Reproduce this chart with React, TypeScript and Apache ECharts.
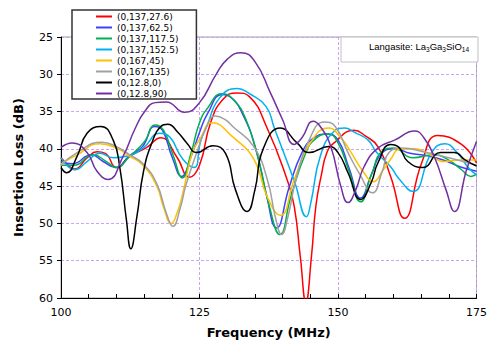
import React, { useEffect, useRef } from "react";
import * as echarts from "echarts";

// [frequency (MHz), insertion loss (dB)]
const s0_137_276: number[][] = [
  [100, 41.2], [101.6, 42.4], [102.5, 42.7], [104.7, 41.2], [106.5, 40.4], [108, 40.6], [110, 42.5],
  [112.4, 41], [115.5, 39.8], [118, 38.5], [120.9, 41.1], [123.2, 43.8], [125, 42.2], [127, 36.5],
  [129.3, 33.3], [131.8, 32.5], [134, 33], [137.2, 37.2], [140.8, 44.1], [142.1, 47.7], [143.2, 54.5],
  [144.2, 60.5], [145.2, 54.5], [146, 47.7], [147, 43.5], [148, 40.5], [149.3, 39.2], [152.9, 37.5],
  [155, 38.3], [157.2, 39.7], [159.5, 43.7], [162, 49.3], [165.1, 41.9], [168, 38.2], [172.3, 39.4],
  [175, 41.9],
];
const s0_137_625: number[][] = [
  [100, 41.7], [102, 42], [105.5, 40.8], [107.6, 41.7], [109.9, 42.5], [112.4, 40.9], [114.7, 39.7],
  [116.9, 37], [118.3, 37.5], [120.1, 41.2], [121.8, 43.7], [123.5, 41], [125, 37.8], [126.5, 35.2],
  [129.1, 32.7], [130.5, 33], [132.7, 35.2], [135.2, 40.1], [137, 45.9], [138.9, 50.6], [141.2, 45.1],
  [143.5, 40.5], [145.5, 38.6], [148, 38], [150, 38.8], [152, 42.6], [154.1, 46.6], [156, 43.5],
  [158, 40.5], [160.3, 40], [163, 40.6], [166, 40.9], [169, 41.5], [172, 42.4], [175, 43],
];
const s0_137_1175: number[][] = [
  [100, 42.2], [102.3, 42.2], [105.8, 40.8], [108.2, 41.7], [110, 42.5], [112.4, 41], [115.1, 39],
  [117, 36.8], [118.5, 37.5], [120.3, 41], [121.9, 43.9], [123.5, 40.5], [125, 36.5], [126.5, 34.5],
  [129, 32.6], [131, 33.3], [133.4, 36.1], [135.8, 41.9], [137.6, 47.7], [139.5, 51.5], [141.5, 46.4],
  [144.2, 40.5], [146, 38.6], [148.2, 38], [150, 39.2], [152, 43], [154.1, 47.1], [156, 43.5],
  [158, 40.3], [160, 39.9], [163.5, 41.2], [167.4, 40.8], [170, 41.5], [172.3, 42.8], [174, 43.7],
  [175, 43.4],
];
const s0_137_1525: number[][] = [
  [100, 41.2], [101, 42.2], [102.5, 42.8], [104.7, 41.7], [107, 40.6], [109.4, 41.2], [111.8, 41],
  [114.8, 39.9], [117.8, 37.9], [119.3, 38.2], [122, 41.4], [124, 42.5], [125.2, 39], [126.3, 37],
  [128.6, 33.2], [131.8, 31.9], [134, 32.6], [137, 34.3], [138.5, 37.2], [142.2, 44.5], [144.3, 49.1],
  [145.1, 47.2], [146.8, 41], [149.2, 37.7], [151.2, 37.2], [153, 37.8], [155.4, 38.8], [157, 40.5],
  [159.5, 42.4], [161, 44], [163.5, 45.7], [166.9, 40.5], [169.3, 39.3], [171.5, 40.5], [173.5, 42.5],
  [175, 43.5],
];
const s0_167_45: number[][] = [
  [100, 42], [102.9, 40.8], [107, 39.3], [110, 39.9], [112.4, 41], [114.8, 42.2], [117.3, 45],
  [118.5, 47.8], [119.9, 50], [121, 48.5], [122, 45.9], [123.7, 40.5], [125, 38.8], [127.3, 36.5],
  [131, 38.4], [134.9, 41.5], [137.2, 46.4], [139.6, 48.9], [142.1, 44.1], [145, 39.2], [148.3, 37.2],
  [150.5, 38.5], [152.3, 40.4], [154.5, 43], [156.4, 44.4], [158, 43], [159.6, 41.3], [161, 40.1],
  [163.8, 40], [166, 40.5], [169.2, 41.7], [172, 41.5], [175, 41.5],
];
const s0_167_135: number[][] = [
  [100, 42.2], [102.9, 40.5], [107.4, 39.1], [110, 39.7], [112.4, 40.8], [114.8, 42], [117.3, 44.7],
  [119, 48.6], [120.2, 50.4], [121.5, 48], [122.5, 45], [124.5, 40.5], [126.3, 37], [127.8, 35.6],
  [129.5, 36], [131, 37], [134.7, 39.6], [137.2, 44], [138.8, 49.5], [139.8, 51.5], [141, 49],
  [142.4, 44.1], [144.8, 38.8], [147.5, 36.4], [149.5, 37], [151.8, 40.5], [154, 43.5], [156.2, 45.9],
  [158, 43], [159.2, 40.5], [161.5, 39.9], [166, 40.5], [170, 41.2], [175, 42.2],
];
const s0_128_0: number[][] = [
  [100, 42.5], [101, 43.2], [102.9, 41], [104.7, 37.9], [107.2, 37], [109.4, 38.8], [110.6, 42.4],
  [111.8, 49.5], [112.6, 53.4], [113.7, 49.1], [114.9, 43], [116.5, 39], [118, 37], [119.3, 36.7],
  [121, 37.7], [122.7, 39.2], [124.5, 40.5], [127.4, 39.6], [129.7, 40.6], [131.5, 45.5], [133.6, 48.4],
  [135, 45.5], [136.5, 40], [139.6, 37.2], [142.6, 39.2], [144.8, 40.5], [148.3, 39.7], [150, 40.5],
  [151.8, 43.2], [154.1, 46.8], [156, 44.5], [157.2, 41.9], [159.5, 39.4], [161, 39.8], [162.6, 41.7],
  [165.3, 42.5], [168.5, 40.5], [171, 40.5], [173, 41.5], [175, 42.3],
];
const s0_128_90: number[][] = [
  [100, 39.8], [102, 39.2], [104.7, 40.5], [106.5, 43], [108.5, 44.1], [111.2, 41], [113.3, 37.4],
  [115.1, 35], [117, 33.8], [119, 33.7], [122.3, 35.1], [125, 33.8], [128, 30], [130, 28],
  [132.5, 27.1], [135, 28.3], [137.8, 32.5], [140, 36.1], [142.1, 39.4], [143.5, 38.5], [145.5, 36.3],
  [146.8, 37], [148.7, 39.7], [150.5, 45], [151.8, 47.2], [153.2, 45.5], [154.7, 42.4], [157.2, 39.9],
  [160.3, 38.8], [163.8, 37.6], [165.5, 38.5], [167.4, 41.1], [169.5, 45.5], [171, 48.4], [173.2, 42.8],
  [175, 39],
];

const seriesNames = [
  "(0,137,27.6)", "(0,137,62.5)", "(0,137,117.5)", "(0,137,152.5)",
  "(0,167,45)", "(0,167,135)", "(0,12.8,0)", "(0,12.8,90)",
];
const seriesData = [
  s0_137_276, s0_137_625, s0_137_1175, s0_137_1525, s0_167_45, s0_167_135, s0_128_0, s0_128_90,
];
const seriesColors = [
  "#ff0000", "#3f3fff", "#00b050", "#00b0f0", "#ffc000", "#a0a0a0", "#000000", "#7030a0",
];

const FONT = "DejaVu Sans";
const GRID_COLOR = "#c9a3f5";

export default function App() {
  const ref = useRef<HTMLDivElement>(null);
  useEffect(() => {
    if (!ref.current) return;
    const chart = echarts.init(ref.current, undefined, { renderer: "svg" });
    chart.setOption({
      animation: false,
      backgroundColor: "#fff",
      grid: {
        left: 61, right: 11, top: 37, bottom: 48,
        show: true, borderColor: "#a0a0a0", borderWidth: 1,
      },
      legend: {
        orient: "vertical",
        left: 72, top: 10,
        itemGap: 0, itemWidth: 16, itemHeight: 2,
        icon: "rect",
        backgroundColor: "#fff",
        borderColor: "#333", borderWidth: 1.5,
        padding: [1, 18, 0, 24],
        textStyle: { fontSize: 9, lineHeight: 11, fontFamily: FONT, color: "#000" },
        data: seriesNames,
      },
      xAxis: {
        type: "value", min: 100, max: 175, interval: 25,
        axisLine: { show: true, lineStyle: { color: "#000", width: 1 } },
        axisTick: { show: true, inside: true, length: 4, lineStyle: { color: "#000" } },
        minorTick: { show: true, splitNumber: 5, length: 4, lineStyle: { color: "#000" } },
        splitLine: { show: true, lineStyle: { color: GRID_COLOR, type: [3, 2], width: 1 } },
        axisLabel: { fontSize: 11, fontFamily: FONT, color: "#000", margin: 9 },
        name: "Frequency (MHz)", nameLocation: "middle", nameGap: 28,
        nameTextStyle: { fontSize: 13, fontWeight: "bold", fontFamily: FONT, color: "#000" },
      },
      yAxis: {
        type: "value", inverse: true, min: 25, max: 60, interval: 5,
        axisLine: { show: true, lineStyle: { color: "#000", width: 1 } },
        axisTick: { show: true, inside: false, length: 4, lineStyle: { color: "#000" } },
        splitLine: { show: true, lineStyle: { color: GRID_COLOR, type: [3, 2], width: 1 } },
        axisLabel: { fontSize: 11, fontFamily: FONT, color: "#000", margin: 8 },
        name: "Insertion Loss (dB)", nameLocation: "middle", nameGap: 36, nameRotate: 90,
        nameTextStyle: { fontSize: 13, fontWeight: "bold", fontFamily: FONT, color: "#000" },
      },
      graphic: [
        {
          type: "rect", z: 50,
          shape: { x: 341, y: 37, width: 137, height: 25 },
          style: { fill: "#fff", stroke: "#c0c0c0", lineWidth: 1 },
        },
        {
          type: "text", z: 51, x: 369, y: 46,
          style: {
            text: "{a|Langasite: La}{s|3}{a|Ga}{s|3}{a|SiO}{s|14}",
            verticalAlign: "middle",
            rich: {
              a: { fontSize: 9.5, fontFamily: "Liberation Sans", fill: "#000", lineHeight: 14, verticalAlign: "middle" },
              s: { fontSize: 6.5, fontFamily: "Liberation Sans", fill: "#000", lineHeight: 8, verticalAlign: "bottom" },
            },
          },
        },
      ],
      series: seriesNames.map((name, i) => ({
        name,
        type: "line",
        data: seriesData[i],
        smooth: 0.5,
        symbol: "none",
        clip: true,
        lineStyle: { color: seriesColors[i], width: 1.5 },
        itemStyle: { color: seriesColors[i] },
      })),
    });
    return () => chart.dispose();
  }, []);
  return <div ref={ref} style={{ position: "fixed", left: 0, top: 0, width: 490, height: 346 }} />;
}
